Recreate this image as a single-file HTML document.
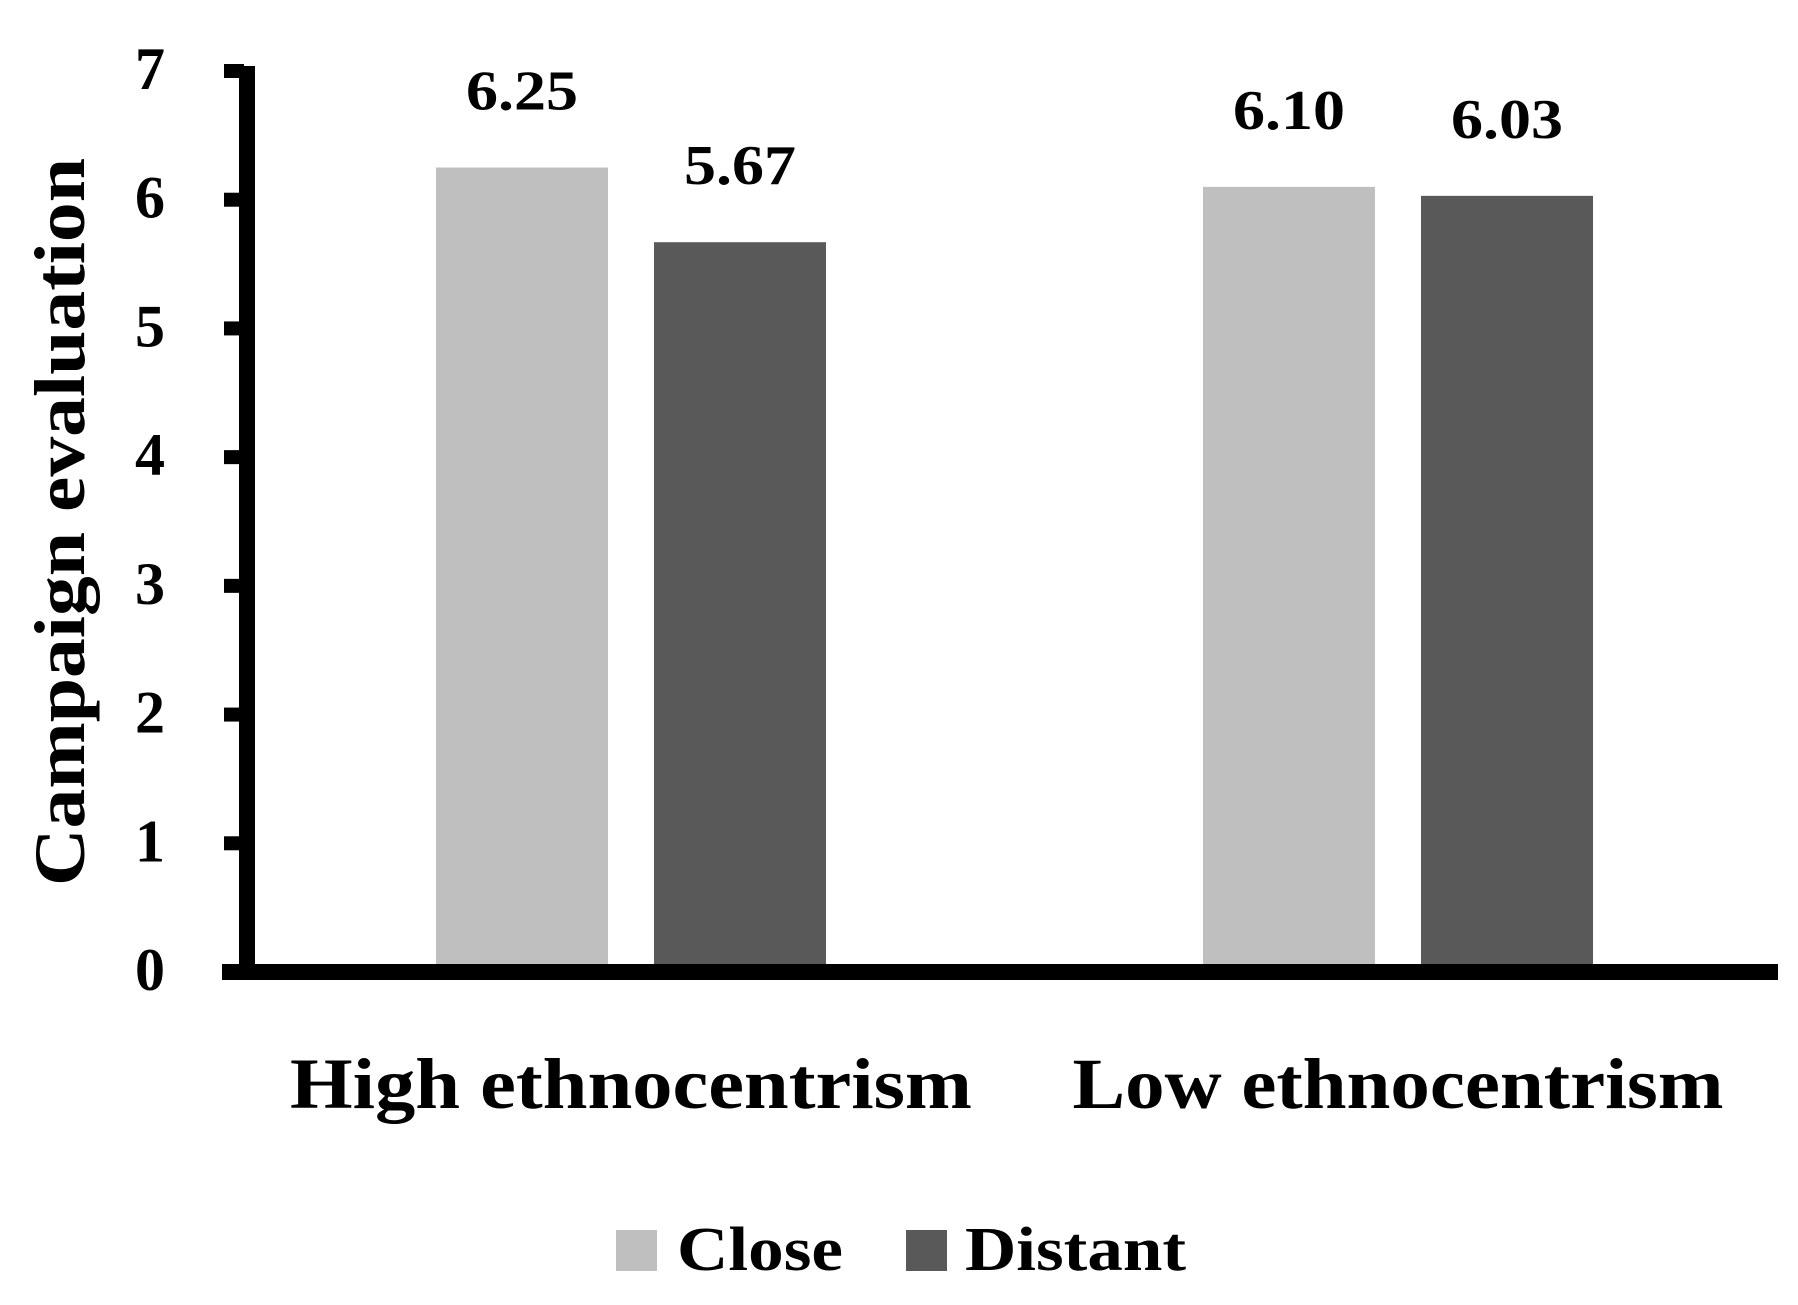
<!DOCTYPE html>
<html><head><meta charset="utf-8"><style>
html,body{margin:0;padding:0;background:#fff;}
svg{display:block;font-family:"Liberation Serif",serif;font-weight:bold;}
</style></head><body>
<svg id="chart" width="1798" height="1305" viewBox="0 0 1798 1305" xmlns="http://www.w3.org/2000/svg">
<text x="60" y="522" transform="rotate(-90 60 522)" text-anchor="middle" dominant-baseline="central" font-size="72" textLength="728" lengthAdjust="spacingAndGlyphs">Campaign evaluation</text>
<g id="ticks"></g>
<g id="bars"></g>
<rect x="239" y="66" width="16" height="914" fill="#000"/>
<rect x="222" y="964" width="1556" height="16" fill="#000"/>
<g>
<rect x="616" y="1230" width="41" height="41" fill="#bfbfbf"/>
<text x="677" y="1250" dominant-baseline="central" font-size="62" textLength="166" lengthAdjust="spacingAndGlyphs">Close</text>
<rect x="906" y="1230" width="41" height="41" fill="#595959"/>
<text x="965" y="1250" dominant-baseline="central" font-size="62" textLength="221" lengthAdjust="spacingAndGlyphs">Distant</text>
</g>
</svg>
<script>
const categories = ["High ethnocentrism", "Low ethnocentrism"];
const closeValues = [6.25, 6.10];
const distantValues = [5.67, 6.03];
const valueLabels = [["6.25", "5.67"], ["6.10", "6.03"]];
const yTicks = [0, 1, 2, 3, 4, 5, 6, 7];

const NS = "http://www.w3.org/2000/svg";
const y0 = 972, yTop = 71;
function yScale(v){ return y0 - v * (y0 - yTop) / 7; }
const groupCenters = [631, 1398];
const catWidths = [682, 651];
function barX(g, s){ return groupCenters[g] + (s === 0 ? -195 : 23); }
const barW = 172;

const ticksG = document.getElementById('ticks');
yTicks.forEach(t => {
  const r = document.createElementNS(NS, 'rect');
  r.setAttribute('x', 224); r.setAttribute('y', yScale(t) - 7);
  r.setAttribute('width', 20); r.setAttribute('height', 14); r.setAttribute('fill', '#000');
  
  
  ticksG.appendChild(r);
  const tx = document.createElementNS(NS, 'text');
  tx.setAttribute('x', 150); tx.setAttribute('y', yScale(t) - 2);
  tx.setAttribute('text-anchor', 'middle'); tx.setAttribute('dominant-baseline', 'central');
  tx.setAttribute('font-size', '60');
  tx.textContent = t;
  
  
  ticksG.appendChild(tx);
});

const barsG = document.getElementById('bars');
categories.forEach((c, g) => {
  [closeValues[g], distantValues[g]].forEach((v, s) => {
    const r = document.createElementNS(NS, 'rect');
    const x = barX(g, s), yv = yScale(v);
    r.setAttribute('x', x); r.setAttribute('y', yv);
    r.setAttribute('width', barW); r.setAttribute('height', y0 - yv);
    r.setAttribute('fill', s === 0 ? '#bfbfbf' : '#595959');
    
    
    barsG.appendChild(r);
    const t = document.createElementNS(NS, 'text');
    t.setAttribute('x', x + barW / 2); t.setAttribute('y', yv - 76);
    t.setAttribute('text-anchor', 'middle'); t.setAttribute('dominant-baseline', 'central');
    t.setAttribute('font-size', '56');
    t.setAttribute('textLength', '112');
    t.setAttribute('lengthAdjust', 'spacingAndGlyphs');
    t.textContent = valueLabels[g][s];
    
    
    barsG.appendChild(t);
  });
  const cl = document.createElementNS(NS, 'text');
  cl.setAttribute('x', groupCenters[g]); cl.setAttribute('y', 1084);
  cl.setAttribute('text-anchor', 'middle'); cl.setAttribute('dominant-baseline', 'central');
  cl.setAttribute('font-size', '72');
  cl.setAttribute('textLength', catWidths[g]);
  cl.setAttribute('lengthAdjust', 'spacingAndGlyphs');
  cl.textContent = c;
  
  
  barsG.appendChild(cl);
});
</script>
</body></html>
